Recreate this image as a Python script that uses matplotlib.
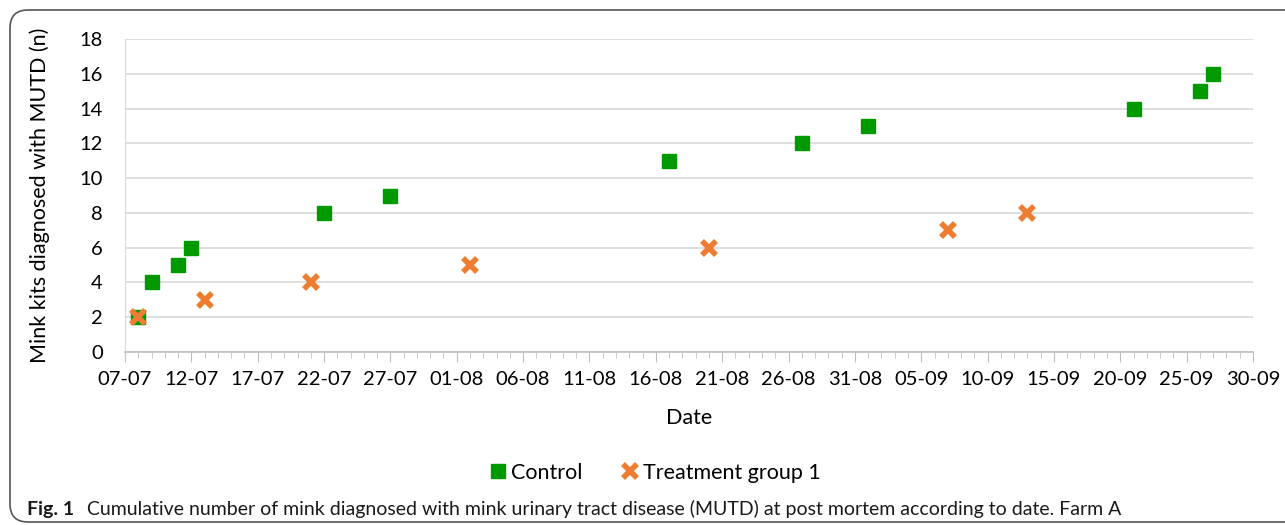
import matplotlib
matplotlib.use("Agg")
import matplotlib.pyplot as plt
import matplotlib.dates as mdates
from matplotlib.patches import FancyBboxPatch
import pandas as pd

# data (year is arbitrary, only day-month shown)
control_dates = ["2019-07-08", "2019-07-09", "2019-07-11", "2019-07-12", "2019-07-22",
                 "2019-07-27", "2019-08-17", "2019-08-27", "2019-09-01", "2019-09-21",
                 "2019-09-26", "2019-09-27"]
control_counts = [2, 4, 5, 6, 8, 9, 11, 12, 13, 14, 15, 16]
treat_dates = ["2019-07-08", "2019-07-13", "2019-07-21", "2019-08-02", "2019-08-20",
               "2019-09-07", "2019-09-13"]
treat_counts = [2, 3, 4, 5, 6, 7, 8]

x_start, x_end = "2019-07-07", "2019-09-30"

plt.rcParams['font.family'] = ['Lato', 'DejaVu Sans']

fig = plt.figure(figsize=(12.85, 5.25), dpi=100)

# frame of the figure box (pixel coordinates)
bg = fig.add_axes([0, 0, 1, 1])
bg.set_xlim(0, 1285)
bg.set_ylim(525, 0)
bg.axis('off')
bg.add_patch(FancyBboxPatch((10, 10), 1320, 512, boxstyle="round,pad=0,rounding_size=18",
                            fill=False, edgecolor='#555555', linewidth=1.2))
bg.text(27, 509, "Fig. 1", fontsize=14, fontweight='bold', va='center', ha='left', color='#1a1a1a')
bg.text(87, 509, "Cumulative number of mink diagnosed with mink urinary tract disease (MUTD) "
        "at post mortem according to date. Farm A",
        fontsize=14, va='center', ha='left', color='#1a1a1a')

ax = fig.add_axes([125 / 1285, 1 - 352 / 525, 1128 / 1285, 313 / 525])
cd = pd.to_datetime(control_dates)
td = pd.to_datetime(treat_dates)
ax.plot(cd, control_counts, linestyle='none', marker='s', markersize=10,
        color='#009a00', label='Control', zorder=3)
ax.plot(td, treat_counts, linestyle='none', marker='x', markersize=10, markeredgewidth=4,
        color='#ed7d31', label='Treatment group 1', zorder=4)

ax.set_xlim(pd.Timestamp(x_start), pd.Timestamp(x_end))
ax.set_ylim(0, 18)
ax.set_yticks(range(0, 19, 2))
major = pd.date_range(x_start, x_end, freq='5D')
minor = pd.date_range(x_start, x_end, freq='D')
ax.set_xticks(major)
ax.set_xticks(minor, minor=True)
ax.xaxis.set_major_formatter(mdates.DateFormatter('%d-%m'))

ax.grid(axis='y', color='#d9d9d9', linewidth=1.2)
ax.set_axisbelow(True)
for s in ['top', 'right']:
    ax.spines[s].set_visible(False)
ax.spines['left'].set_color('#d9d9d9')
ax.spines['bottom'].set_color('#bfbfbf')
ax.spines['bottom'].set_linewidth(1.2)
ax.tick_params(axis='y', length=0, labelsize=14.5, pad=16)
ax.tick_params(axis='x', which='major', length=7, color='#bfbfbf', labelsize=14.5, pad=7)
ax.tick_params(axis='x', which='minor', length=4, color='#bfbfbf')

ax.set_xlabel('Date', fontsize=15.5, labelpad=14)
ax.set_ylabel('Mink kits diagnosed with MUTD (n)', fontsize=15.5, labelpad=21)

fig.legend(loc='center', bbox_to_anchor=(655 / 1285, 1 - 473 / 525), ncol=2, frameon=False,
           fontsize=15.5, handlelength=0.8, handletextpad=0.2, columnspacing=1.8)

fig.savefig('out.png', dpi=100)
